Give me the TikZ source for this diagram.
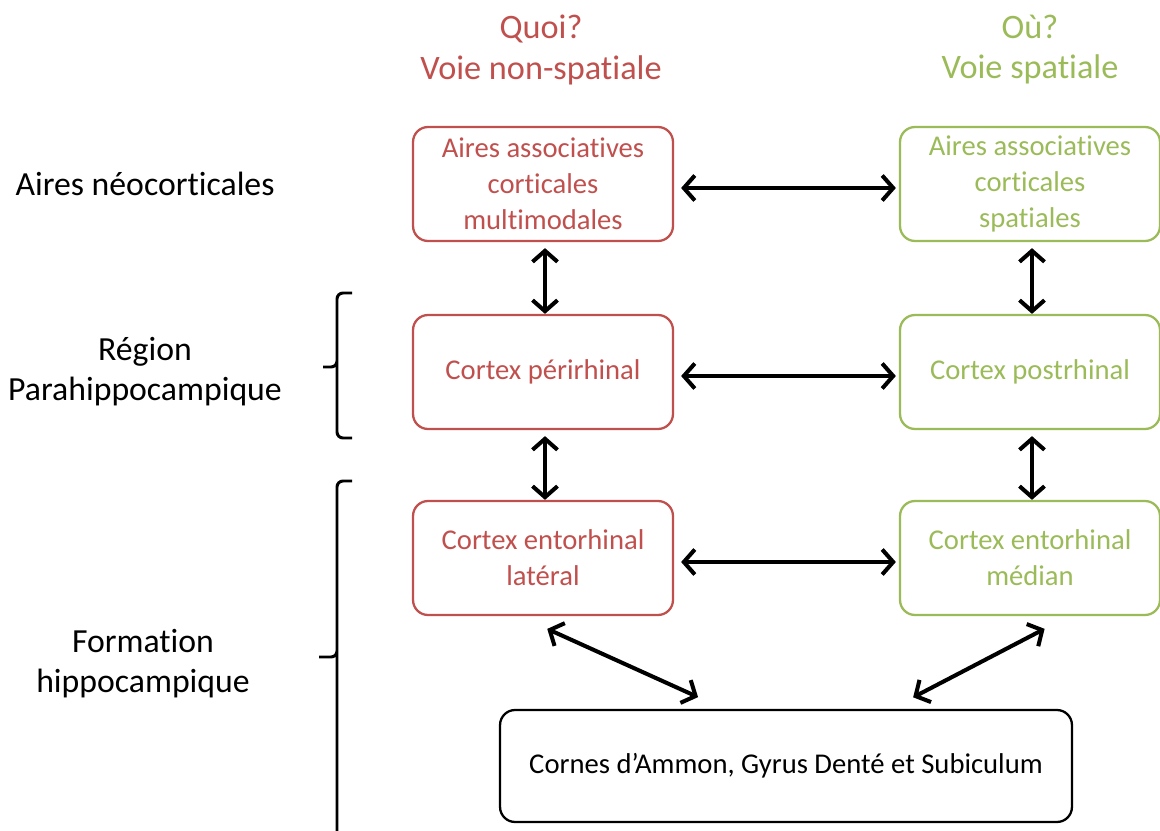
\documentclass[tikz,border=0pt]{standalone}
\usepackage{fontspec}
\setmainfont[Ligatures=NoCommon]{Carlito}
\usetikzlibrary{arrows.meta}
\definecolor{quoirouge}{HTML}{C0504D}
\definecolor{ouvert}{HTML}{9BBB59}
\tikzset{
  aire/.style={draw, line width=1.3pt, rounded corners=0.3cm, align=center,
    minimum width=5.2cm, minimum height=2.28cm, inner sep=2pt,
    font=\fontsize{16.3}{20.5}\selectfont},
  quoi/.style={aire, draw=quoirouge, text=quoirouge},
  ou/.style={aire, draw=ouvert, text=ouvert},
  titre/.style={align=center, font=\fontsize{19.5}{22.8}\selectfont},
  niveau/.style={align=center, font=\fontsize{19.2}{22.8}\selectfont},
  fleche/.style={line width=2.3pt, {Straight Barb[length=0.22cm,width=0.5cm]}-{Straight Barb[length=0.22cm,width=0.5cm]}},
  accolade/.style={line width=1.7pt, rounded corners=0.12cm}
}
\begin{document}
\begin{tikzpicture}[x=0.02cm, y=-0.02cm]
	\useasboundingbox (0,0) rectangle (1160,831);
	\node[titre, text=quoirouge] (quoi) at (541,50) {Quoi?\\Voie non-spatiale};
	\node[titre, text=ouvert] (ou) at (1030,50) {Où?\\Voie spatiale};
	\node[niveau] (neo) at (145,184) {Aires néocorticales};
	\node[niveau] (para) at (145,372) {Région\\Parahippocampique};
	\node[niveau] (form) at (143,664) {Formation\\hippocampique};
	\node[quoi] (multi) at (543,184) {Aires associatives\\corticales\\multimodales};
	\node[ou] (spat) at (1030,184) {Aires associatives\\corticales\\spatiales};
	\node[quoi] (peri) at (543,372) {Cortex périrhinal};
	\node[ou] (post) at (1030,372) {Cortex postrhinal};
	\node[quoi] (lat) at (543,558) {Cortex entorhinal\\latéral};
	\node[ou] (med) at (1030,558) {Cortex entorhinal\\médian};
	\node[aire, draw=black, minimum width=11.44cm, minimum height=2.24cm] (hippo) at (786,766)
		{Cornes d’Ammon, Gyrus Denté et Subiculum};
	\foreach \a/\b in {multi/spat,peri/post,lat/med}
		\draw[fleche, shorten <=0.14cm, shorten >=0.06cm]
			([yshift=-0.08cm]\a.east) -- ([yshift=-0.08cm]\b.west);
	\foreach \a/\b in {multi/peri,peri/lat,spat/post,post/med}
		\draw[fleche, shorten <=0.12cm]
			([xshift=0.04cm]\a.south) -- ([xshift=0.04cm]\b.north);
	\draw[fleche, shorten <=0.62cm, shorten >=0.57cm]
		([xshift=-0.48cm]lat.south) -- ([xshift=-1.24cm]hippo.north);
	\draw[fleche, shorten <=0.55cm, shorten >=0.5cm]
		([xshift=0.78cm]med.south) -- ([xshift=2.1cm]hippo.north);
	\draw[accolade] (352,293) -- (337,293) -- (337,367) -- (323,367)
		(337,362) -- (337,438) -- (352,438);
	\draw[accolade] (352,481) -- (337,481) -- (337,657) -- (319,657)
		(337,652) -- (337,845);
\end{tikzpicture}
\end{document}
